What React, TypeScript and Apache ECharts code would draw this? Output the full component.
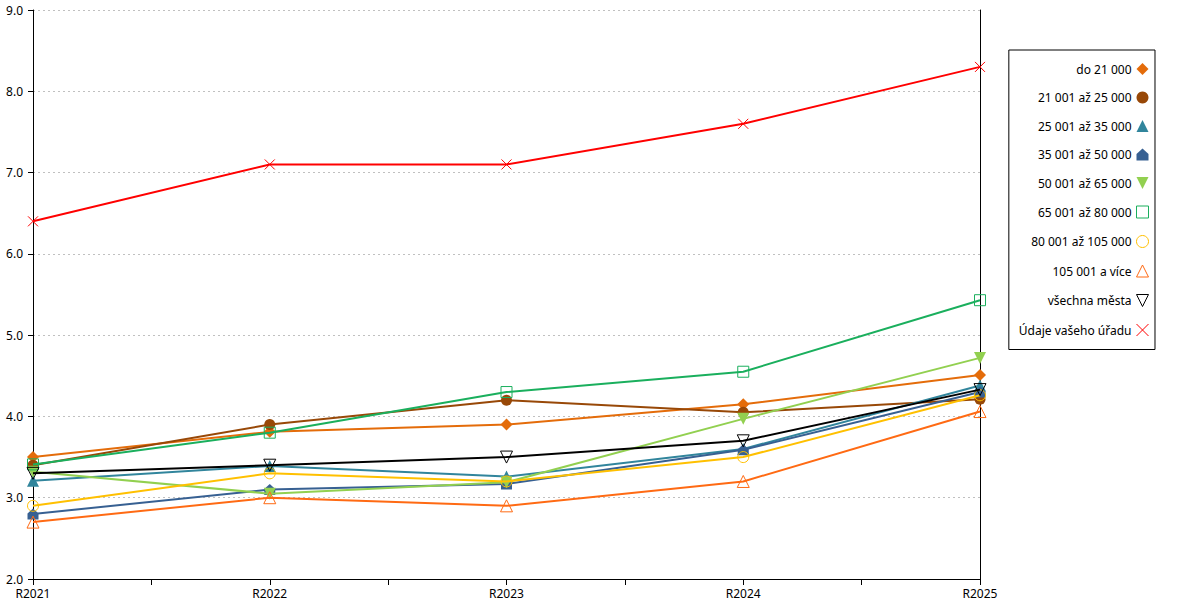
import React, { useEffect, useRef } from "react";
import * as echarts from "echarts";

const categories = ["R2021", "R2022", "R2023", "R2024", "R2025"];

const names = [
  "do 21 000",
  "21 001 až 25 000",
  "25 001 až 35 000",
  "35 001 až 50 000",
  "50 001 až 65 000",
  "65 001 až 80 000",
  "80 001 až 105 000",
  "105 001 a více",
  "všechna města",
  "Údaje vašeho úřadu",
];

const do21 = [3.5, 3.81, 3.9, 4.15, 4.51];
const s21to25 = [3.4, 3.9, 4.2, 4.05, 4.21];
const s25to35 = [3.21, 3.39, 3.26, 3.6, 4.38];
const s35to50 = [2.8, 3.1, 3.17, 3.59, 4.3];
const s50to65 = [3.32, 3.05, 3.19, 3.97, 4.72];
const s65to80 = [3.41, 3.8, 4.3, 4.55, 5.43];
const s80to105 = [2.9, 3.3, 3.2, 3.5, 4.26];
const s105plus = [2.7, 3.0, 2.9, 3.2, 4.06];
const allCities = [3.3, 3.4, 3.5, 3.7, 4.33];
const yourOffice = [6.4, 7.1, 7.1, 7.6, 8.3];

const yTicks = ["2.0", "3.0", "4.0", "5.0", "6.0", "7.0", "8.0", "9.0"];

const HOUSE = "path://M5,0L10,4.5L10,10L0,10L0,4.5Z";
const DOWN = "path://M0,0L10,0L5,10Z";
const CROSS = "path://M0,0L10,10M10,0L0,10";

type Spec = {
  data: number[];
  color: string;
  symbol: string;
  filled: boolean;
  size: number;
};

const specs: Spec[] = [
  { data: do21, color: "#e46c0a", symbol: "diamond", filled: true, size: 12 },
  { data: s21to25, color: "#984807", symbol: "circle", filled: true, size: 11 },
  { data: s25to35, color: "#31859c", symbol: "triangle", filled: true, size: 12 },
  { data: s35to50, color: "#376092", symbol: HOUSE, filled: true, size: 11 },
  { data: s50to65, color: "#92d050", symbol: DOWN, filled: true, size: 12 },
  { data: s65to80, color: "#1aaf5d", symbol: "rect", filled: false, size: 11 },
  { data: s80to105, color: "#ffc000", symbol: "circle", filled: false, size: 11 },
  { data: s105plus, color: "#ff6a13", symbol: "triangle", filled: false, size: 12 },
  { data: allCities, color: "#000000", symbol: DOWN, filled: false, size: 12 },
  { data: yourOffice, color: "#ff0000", symbol: CROSS, filled: false, size: 10 },
];

const FONT = "Noto Sans";

export default function App() {
  const ref = useRef<HTMLDivElement>(null);
  useEffect(() => {
    document.body.style.margin = "0";
    if (!ref.current) return;
    const chart = echarts.init(ref.current, null, { renderer: "svg" });
    const itemStyleOf = (s: Spec) =>
      s.filled
        ? { color: s.color, borderColor: s.color, borderWidth: 0 }
        : { color: "rgba(0,0,0,0)", borderColor: s.color, borderWidth: 1 };
    const option: any = {
      animation: false,
      textStyle: { fontFamily: FONT },
      grid: { left: 33, right: 220, top: 10, bottom: 21, containLabel: false },
      xAxis: {
        type: "value",
        min: 0,
        max: 4,
        interval: 0.5,
        axisLine: { show: true, lineStyle: { color: "#000", width: 1 } },
        axisTick: { show: true, length: 6, lineStyle: { color: "#000" } },
        splitLine: { show: false },
        axisLabel: {
          color: "#000",
          fontFamily: FONT,
          fontSize: 12,
          margin: 8,
          showMinLabel: true,
          showMaxLabel: true,
          formatter: (v: number) =>
            Number.isInteger(v) ? categories[v] : "",
        },
      },
      yAxis: [
        {
          type: "value",
          min: 2,
          max: 9,
          interval: 1,
          axisLine: { show: true, lineStyle: { color: "#000", width: 1 } },
          axisTick: { show: true, length: 5, lineStyle: { color: "#000" } },
          splitLine: {
            show: true,
            lineStyle: { color: "#c0c0c0", type: [2, 3], width: 1 },
          },
          axisLabel: {
            color: "#000",
            fontFamily: FONT,
            fontSize: 12,
            margin: 10,
            formatter: (v: number) => yTicks[Math.round(v) - 2],
          },
        },
        {
          type: "value",
          position: "right",
          min: 2,
          max: 9,
          interval: 1,
          axisLine: { show: true, lineStyle: { color: "#000", width: 1 } },
          axisTick: { show: false },
          axisLabel: { show: false },
          splitLine: { show: false },
        },
      ],
      legend: {
        orient: "vertical",
        align: "right",
        right: 45,
        top: 50,
        itemWidth: 12,
        itemHeight: 12,
        itemGap: 16.5,
        padding: [13, 6, 13, 10],
        borderColor: "#000",
        borderWidth: 1,
        borderRadius: 0,
        backgroundColor: "#fff",
        textStyle: { color: "#000", fontFamily: FONT, fontSize: 12 },
        data: names.map((n, i) => ({
          name: n,
          icon: specs[i].symbol,
          itemStyle: itemStyleOf(specs[i]),
        })),
      },
      series: specs.map((s, i) => ({
        name: names[i],
        type: "line",
        yAxisIndex: 0,
        data: s.data.map((v, j) => [j, v]),
        symbol: s.symbol,
        symbolSize: s.size,
        showAllSymbol: true,
        lineStyle: { color: s.color, width: 2 },
        itemStyle: itemStyleOf(s),
        emphasis: { disabled: true },
        z: 2 + i,
      })),
    };
    chart.setOption(option);
    return () => chart.dispose();
  }, []);
  return <div ref={ref} style={{ width: 1200, height: 600 }} />;
}
